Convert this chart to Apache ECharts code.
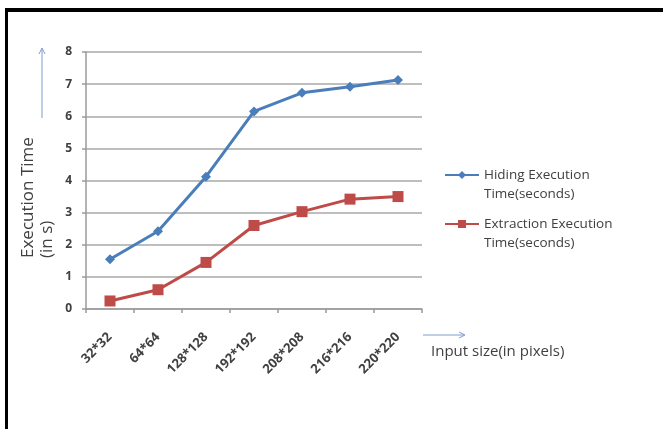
<!DOCTYPE html>
<html>
<head>
<meta charset="utf-8">
<script src="https://cdn.jsdelivr.net/npm/echarts@6/dist/echarts.min.js"></script>
<style>
  html, body { margin: 0; padding: 0; background: #fff; }
  #chart { width: 663px; height: 429px; }
</style>
</head>
<body>
<div id="chart"></div>
<script>
// Image sizes tested
const categories = ['32*32', '64*64', '128*128', '192*192', '208*208', '216*216', '220*220'];
// Execution times in seconds
const hidingTimes = [1.55, 2.42, 4.12, 6.15, 6.73, 6.92, 7.13];
const extractionTimes = [0.25, 0.6, 1.45, 2.6, 3.03, 3.42, 3.5];
const yTicks = { min: 0, max: 8, interval: 1 };

const seriesNames = ['Hiding Execution Time(seconds)', 'Extraction Execution Time(seconds)'];
const textColor = '#404040';
const font = 'Open Sans';
const legendLine = 19;

const chart = echarts.init(document.getElementById('chart'), null, { renderer: 'canvas' });

// One legend per series; an empty leading line keeps the icon level with the first text line
function legendFor(name, iconY) {
  return {
    data: [name],
    left: 444,
    top: iconY - 1.5 * legendLine,
    padding: 0,
    itemWidth: 34,
    itemHeight: 10,
    itemGap: 0,
    selectedMode: false,
    formatter: function (n) {
      return '\n' + n.replace(' Time(', '\nTime(');
    },
    textStyle: {
      color: textColor,
      fontFamily: font,
      fontSize: 13.5,
      lineHeight: legendLine
    }
  };
}

chart.setOption({
  animation: false,
  backgroundColor: '#fff',
  grid: { left: 86, right: 241, top: 52, bottom: 120 },
  legend: [
    legendFor(seriesNames[0], 175),
    legendFor(seriesNames[1], 224)
  ],
  xAxis: {
    type: 'category',
    data: categories,
    boundaryGap: true,
    axisLine: { lineStyle: { color: '#9a9a9a', width: 1.5 } },
    axisTick: { show: true, length: 4, lineStyle: { color: '#9a9a9a', width: 1.5 } },
    axisLabel: {
      rotate: 45,
      margin: 26,
      color: textColor,
      fontFamily: font,
      fontSize: 13,
      fontWeight: 'bold'
    }
  },
  yAxis: {
    type: 'value',
    min: yTicks.min,
    max: yTicks.max,
    interval: yTicks.interval,
    axisLine: { show: true, lineStyle: { color: '#9a9a9a', width: 1.5 } },
    axisTick: { show: true, length: 4, lineStyle: { color: '#9a9a9a', width: 1.5 } },
    splitLine: { lineStyle: { color: '#a8a8a8', width: 1.5 } },
    axisLabel: {
      margin: 14,
      color: textColor,
      fontFamily: font,
      fontSize: 12,
      fontWeight: 'bold'
    }
  },
  series: [
    {
      name: seriesNames[0],
      type: 'line',
      data: hidingTimes,
      symbol: 'diamond',
      symbolSize: 10,
      itemStyle: { color: '#4a7ebb' },
      lineStyle: { color: '#4a7ebb', width: 3 }
    },
    {
      name: seriesNames[1],
      type: 'line',
      data: extractionTimes,
      symbol: 'rect',
      symbolSize: 11,
      itemStyle: { color: '#be4b48' },
      lineStyle: { color: '#be4b48', width: 3 }
    }
  ],
  graphic: [
    // frame edges
    { type: 'rect', shape: { x: 5, y: 8, width: 658, height: 4 }, style: { fill: '#000' } },
    { type: 'rect', shape: { x: 5, y: 8, width: 3, height: 421 }, style: { fill: '#000' } },
    // y-axis title
    {
      type: 'text',
      x: 19, y: 258,
      rotation: Math.PI / 2,
      style: {
        text: 'Execution Time\n(in s)',
        fill: textColor,
        font: '17px "Open Sans"',
        lineHeight: 19,
        align: 'left',
        verticalAlign: 'top'
      }
    },
    // y-axis arrow
    { type: 'polyline', shape: { points: [[42, 118], [42, 49]] }, style: { stroke: '#7f9ccc', lineWidth: 1, fill: null } },
    { type: 'polyline', shape: { points: [[39, 54], [42, 48], [45, 54]] }, style: { stroke: '#7f9ccc', lineWidth: 1, fill: null } },
    // x-axis arrow
    { type: 'polyline', shape: { points: [[423, 335], [464, 335]] }, style: { stroke: '#7f9ccc', lineWidth: 1, fill: null } },
    { type: 'polyline', shape: { points: [[459, 332], [465, 335], [459, 338]] }, style: { stroke: '#7f9ccc', lineWidth: 1, fill: null } },
    // x-axis title
    {
      type: 'text',
      x: 431, y: 352,
      style: {
        text: 'Input size(in pixels)',
        fill: textColor,
        font: '15px "Open Sans"',
        align: 'left',
        verticalAlign: 'middle'
      }
    }
  ]
});
</script>
</body>
</html>
